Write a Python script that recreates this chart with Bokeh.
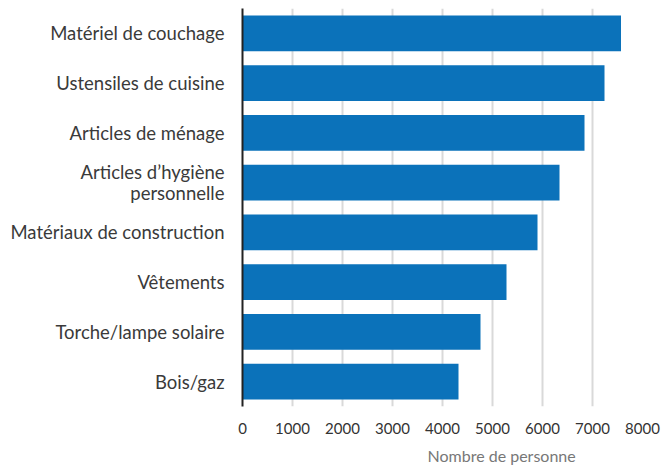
from bokeh.plotting import figure
from bokeh.models import FactorRange, Range1d, Title, FixedTicker
from bokeh.embed import file_html
from bokeh.resources import INLINE

categories = [
    "Matériel de couchage",
    "Ustensiles de cuisine",
    "Articles de ménage",
    "Articles d\u2019hygiène\npersonnelle",
    "Matériaux de construction",
    "Vêtements",
    "Torche/lampe solaire",
    "Bois/gaz",
]
values = [7570, 7240, 6840, 6340, 5900, 5280, 4760, 4320]
x_ticks = [0, 1000, 2000, 3000, 4000, 5000, 6000, 7000, 8000]
x_title = "Nombre de personne"

FONT = "Lato"

p = figure(
    width=663, height=475,
    y_range=FactorRange(factors=list(reversed(categories))),
    x_range=Range1d(0, 8000),
    output_backend="svg", toolbar_location=None,
    min_border_left=242, min_border_right=21, min_border_top=8, min_border_bottom=69,
)
p.hbar(y=categories, right=values, left=0, height=0.72, color="#0b72ba", line_color=None)

p.outline_line_color = None
p.ygrid.grid_line_color = None
p.xgrid.grid_line_color = "#d9d9d9"
p.xgrid.grid_line_width = 2
p.xaxis.ticker = FixedTicker(ticks=x_ticks)
p.xaxis.axis_line_color = None
p.xaxis.major_tick_line_color = None
p.xaxis.minor_tick_line_color = None
p.xaxis.major_tick_out = 0
p.xaxis.major_label_standoff = 16
p.xaxis.major_label_text_font = FONT
p.xaxis.major_label_text_font_size = "15px"
p.xaxis.major_label_text_color = "#333333"

p.yaxis.axis_line_color = "#222222"
p.yaxis.axis_line_width = 2
p.yaxis.major_tick_line_color = None
p.yaxis.minor_tick_line_color = None
p.yaxis.major_tick_out = 0
p.yaxis.major_label_standoff = 18
p.yaxis.major_label_text_font = FONT
p.yaxis.major_label_text_font_size = "18.5px"
p.yaxis.major_label_text_color = "#3a3a3a"
p.yaxis.major_label_text_line_height = 0.95

p.add_layout(Title(text=x_title, align="left", offset=185, text_font=FONT,
                   text_font_size="16px", text_font_style="normal",
                   text_color="#777777", standoff=15), "below")

open("out.html", "w").write(file_html(p, INLINE))
